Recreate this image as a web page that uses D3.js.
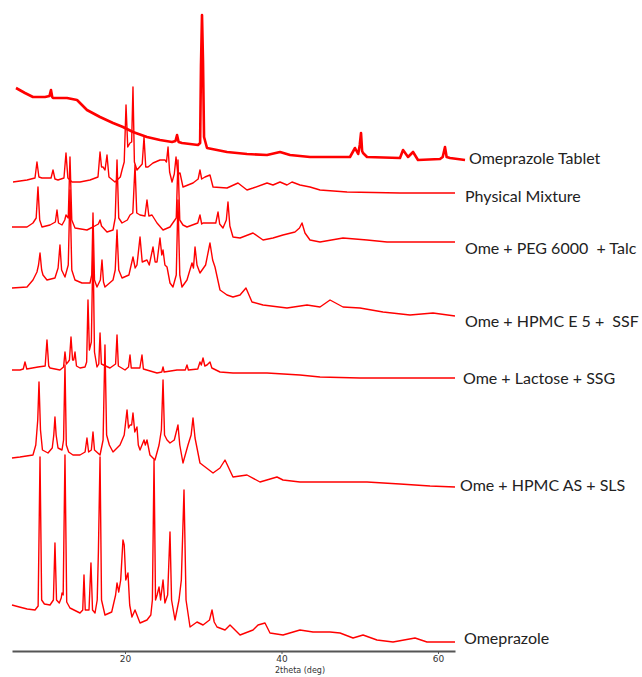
<!DOCTYPE html>
<html>
<head>
    <title>XRD patterns</title>
    <script src="https://d3js.org/d3.v7.min.js"></script>
    <style>
        body { margin: 0; background: #fff; }
    </style>
</head>
<body>
    <script>
        // sample names, top to bottom
        const names = ["Omeprazole Tablet", "Physical Mixture", "Ome + PEG 6000  + Talc",
            "Ome + HPMC E 5 +  SSF", "Ome + Lactose + SSG", "Ome + HPMC AS + SLS", "Omeprazole"];

        // vertical stacking offset of each pattern (a.u.)
        const offsets = [494, 469, 423, 361, 279, 171, 11];

        // [2theta, intensity]
        const tablet = [[6.07,69],[7.22,64],[8.24,60],[9.78,60],[10.35,61],[10.54,67],[10.7,60],[10.80,59],
            [12.59,59],[13.87,57],[15.14,47],[16.81,40],[18.47,34],[19.74,30],[21.02,25],[22.81,20],[24.47,17],
            [26.01,15],[26.45,16],[26.65,22],[26.85,15],[27.28,14],[29.33,12],[29.6,14],[29.71,92],[29.84,142],
            [29.97,95],[30.10,20],[30.48,9],[33.04,5],[35.59,3],[38.15,2],[39.81,5],[41.09,2],[43.64,0],[48.75,0],
            [49.39,9],[49.8,3],[50.0,12],[50.16,24],[50.3,6],[50.42,4],[50.93,0],[55.14,-1],[55.53,7],[56.17,0],
            [56.81,5],[57.44,-3],[60.26,-2],[60.6,0],[60.89,10],[61.1,0],[61.53,-1],[63.45,-3]];

        const physMix = [[5.69,0],[7.48,2],[8.5,4],[8.75,20],[9.0,5],[9.39,4],[10.55,4],[10.80,12],[11.05,3],
            [11.44,2],[12.2,4],[12.46,29],[12.7,4],[13.23,0],[14.25,0],[15.53,2],[16.55,5],[16.81,30],[17.0,15],
            [17.19,15],[17.45,12],[17.70,27],[17.95,5],[18.72,0],[19.4,5],[19.62,12],[19.9,20],[20.13,77],
            [20.35,35],[20.64,39],[20.85,40],[21.02,95],[21.2,20],[21.53,12],[22.2,18],[22.43,45],[22.65,15],
            [22.94,15],[23.58,19],[24.47,22],[25.11,22],[25.3,20],[25.50,35],[25.7,10],[26.01,0],[26.3,8],
            [26.52,25],[26.75,8],[27.03,9],[27.41,-5],[28.69,-1],[29.35,3],[29.58,12],[29.8,3],[30.22,5],
            [30.86,7],[31.25,-5],[33.04,-6],[34.44,-1],[35.59,-8],[36.36,-6],[38.15,-1],[38.91,-3],[39.81,0],
            [40.70,-3],[41.34,0],[42.36,-3],[43.64,-5],[44.92,-8],[48.37,-10],[55.14,-11],[62.17,-11]];

        const pegTalc = [[5.56,1],[7.48,1],[8.24,5],[8.65,10],[8.88,41],[9.1,8],[9.39,1],[10.42,3],[11.1,6],
            [11.31,18],[11.5,5],[11.95,3],[12.3,8],[12.46,13],[12.75,10],[12.97,71],[13.2,8],[13.61,0],[15.14,-2],
            [15.91,1],[16.6,4],[16.81,8],[17.0,2],[17.70,-4],[18.47,-2],[18.75,10],[18.98,68],[19.2,10],[19.62,5],
            [20.3,8],[20.64,13],[21.0,15],[21.28,63],[21.5,15],[21.92,13],[22.55,12],[22.81,28],[23.05,12],
            [23.45,13],[24.09,5],[24.86,-2],[25.75,1],[26.55,10],[26.77,68],[27.0,8],[27.41,3],[27.92,1],[29.3,5],
            [29.58,13],[29.8,4],[29.97,5],[31.6,5],[31.89,16],[32.1,4],[32.52,0],[32.95,8],[33.16,26],[33.4,2],
            [33.80,-9],[34.70,-10],[36.36,-5],[37.64,-12],[38.91,-10],[40.19,-7],[41.72,-4],[42.3,0],[42.62,5],
            [43.0,-5],[43.64,-12],[44.92,-14],[47.86,-10],[50.93,-12],[53.48,-14],[58.08,-14],[62.17,-14]];

        const hpmcE5 = [[5.56,2],[7.48,3],[8.24,10],[8.75,18],[8.95,25],[9.14,37],[9.35,20],[9.52,15],[10.03,10],
            [11.05,12],[11.45,22],[11.69,45],[11.9,20],[12.33,13],[12.75,25],[12.97,100],[13.2,20],[13.61,10],
            [14.50,7],[15.53,7],[15.75,15],[15.91,77],[16.1,10],[16.42,3],[16.85,10],[17.06,30],[17.25,8],
            [17.44,3],[18.47,10],[18.75,20],[18.98,60],[19.2,20],[19.62,12],[20.5,15],[21.02,33],[21.3,22],
            [21.53,25],[21.92,53],[22.2,28],[22.81,30],[23.1,25],[23.58,43],[23.85,28],[24.09,28],[24.47,52],
            [24.7,35],[24.86,40],[25.1,25],[25.37,23],[25.75,7],[26.13,3],[26.55,15],[26.77,90],[27.0,15],
            [27.28,3],[27.92,10],[28.56,27],[28.75,22],[28.95,43],[29.2,25],[29.58,17],[30.3,25],[30.86,47],
            [31.2,30],[31.50,23],[32.14,0],[33.04,-5],[33.80,-7],[34.70,-5],[35.46,2],[36.23,-12],[37.64,-15],
            [40.70,-18],[43.26,-15],[44.92,-17],[46.20,-10],[47.86,-17],[50.03,-18],[52.97,-22],[56.42,-25],
            [59.36,-23],[62.17,-26]];

        const lactose = [[5.56,2],[6.58,2],[7.0,3],[7.22,10],[7.45,3],[8.88,5],[9.8,6],[10.03,32],[10.25,6],
            [10.42,4],[11.69,2],[12.15,5],[12.33,20],[12.5,8],[12.72,10],[12.9,12],[13.10,35],[13.3,12],[13.45,12],
            [13.61,20],[13.8,6],[14.25,4],[14.89,5],[15.1,10],[15.27,72],[15.45,22],[15.7,30],[15.91,129],
            [16.1,20],[16.42,5],[16.65,8],[16.81,39],[16.98,8],[18.08,4],[18.8,8],[18.98,37],[19.15,6],[20.00,2],
            [20.45,5],[20.64,17],[20.8,4],[21.9,4],[22.17,17],[22.35,3],[24.09,-1],[24.7,0],[24.86,5],[25.0,0],
            [26.65,2],[27.7,2],[27.92,7],[28.1,2],[29.3,3],[29.58,10],[29.75,7],[29.97,14],[30.2,6],[30.48,7],
            [30.86,10],[31.1,4],[32.14,0],[33.80,-1],[38.15,-1],[42.36,-3],[44.92,-5],[50.03,-6],[62.17,-6]];

        const hpmcAS = [[5.56,22],[6.58,23],[8.24,25],[8.6,35],[8.85,60],[9.01,98],[9.2,50],[9.45,30],[10.16,27],
            [10.7,32],[10.9,45],[11.05,63],[11.2,45],[11.44,32],[11.95,30],[12.15,40],[12.33,115],[12.5,35],
            [12.8,28],[13.35,25],[14.25,25],[14.9,28],[15.14,42],[15.35,28],[15.7,30],[15.91,48],[16.1,30],
            [16.81,25],[17.2,40],[17.44,135],[17.65,45],[18.0,35],[18.47,28],[19.36,35],[19.9,45],[20.26,70],
            [20.45,52],[20.64,55],[20.85,55],[21.02,67],[21.25,48],[21.53,53],[21.7,35],[21.92,30],[22.43,40],
            [22.6,35],[22.81,40],[23.19,25],[23.83,20],[24.35,35],[24.65,50],[24.86,100],[25.05,45],[25.37,40],
            [25.75,37],[26.3,40],[26.77,55],[27.0,35],[27.41,17],[28.05,35],[28.45,45],[28.69,62],[28.95,42],
            [29.58,17],[31.25,7],[32.14,12],[32.78,20],[33.80,3],[35.59,5],[37.25,-2],[39.42,3],[40.19,0],
            [42.36,-2],[46.20,-2],[50.93,-2],[55.14,-4],[58.98,-6],[62.17,-7]];

        const omeprazole = [[5.56,35],[6.5,33],[7.5,31],[8.5,30],[8.9,34],[9.14,183],[9.35,40],[9.7,36],
            [10.42,35],[10.85,40],[11.05,97],[11.25,40],[11.6,37],[11.85,42],[11.95,47],[12.1,45],[12.33,185],
            [12.55,38],[12.97,32],[14.25,27],[14.6,30],[14.76,65],[14.92,30],[15.4,30],[15.65,77],[15.85,30],
            [16.17,27],[16.45,40],[16.6,88],[16.81,183],[17.0,40],[17.44,25],[18.3,28],[18.8,45],[18.98,57],
            [19.2,48],[19.45,60],[19.74,100],[19.9,95],[20.1,60],[20.38,67],[20.6,35],[20.89,23],[21.28,30],
            [21.92,17],[22.81,20],[23.3,25],[23.5,40],[23.71,180],[23.9,40],[24.1,45],[24.35,53],[24.55,40],
            [24.86,60],[25.1,37],[25.45,45],[25.75,108],[25.95,40],[26.39,20],[26.9,40],[27.2,60],[27.54,150],
            [27.8,40],[28.31,13],[29.2,18],[29.97,15],[30.8,20],[31.12,30],[31.4,18],[31.76,13],[32.78,10],
            [33.42,15],[34.70,5],[36.36,10],[37.00,15],[37.89,17],[38.53,7],[40.19,5],[42.36,10],[44.03,8],
            [46.20,8],[47.48,7],[49.14,2],[50.42,5],[52.20,0],[54.25,-2],[57.06,2],[58.59,-2],[62.17,-2]];

        const patterns = [tablet, physMix, pegTalc, hpmcE5, lactose, hpmcAS, omeprazole];
        const xTicks = [20, 40, 60];

        // small nudges so the names sit where the original put them
        const labelDx = [0, 6, 6, 6, 4, 1, 5];
        const labelDy = [-2, 3, 6, 5, 0, -2, -4];

        const width = 642, height = 677;

        const svg = d3.select("body")
          .append("svg")
            .attr("width", width)
            .attr("height", height);

        const x = d3.scaleLinear()
            .domain([5.56, 62.17])
            .range([12, 455]);

        const y = d3.scaleLinear()
            .domain([0, 640])
            .range([651, 11]);

        const line = d3.line()
            .x(d => x(d[0]))
            .y(d => y(d[1]));

        // patterns
        patterns.forEach((p, i) => {
            const pts = p.map(d => [d[0], d[1] + offsets[i]]);
            svg.append("path")
                .datum(pts)
                .attr("fill", "none")
                .attr("stroke", "#ff0000")
                .attr("stroke-width", i === 0 ? 2.6 : 1.4)
                .attr("stroke-linejoin", "round")
                .attr("d", line);

            const last = pts[pts.length - 1];
            svg.append("text")
                .attr("x", x(last[0]) + 4 + labelDx[i])
                .attr("y", y(last[1]) + labelDy[i])
                .attr("dy", "0.35em")
                .style("white-space", "pre")
                .style("font-family", "Lato, 'Open Sans', sans-serif")
                .style("font-size", "16px")
                .style("fill", "#222")
                .text(names[i]);
        });

        // x axis
        const ax = svg.append("g")
            .attr("transform", `translate(0,${y(0)})`)
            .call(d3.axisBottom(x).tickValues(xTicks).tickSize(3).tickSizeOuter(0));
        ax.select(".domain").attr("stroke", "#555").attr("stroke-width", 2);
        ax.selectAll(".tick line").attr("stroke", "#555");
        ax.selectAll(".tick text")
            .attr("dy", "0.6em")
            .style("font-family", "'DejaVu Sans', sans-serif")
            .style("font-size", "9px")
            .style("fill", "#333");

        svg.append("text")
            .attr("x", 300)
            .attr("y", 673)
            .attr("text-anchor", "middle")
            .style("font-family", "'DejaVu Sans', sans-serif")
            .style("font-size", "8px")
            .style("fill", "#333")
            .text("2theta (deg)");
    </script>
</body>
</html>
